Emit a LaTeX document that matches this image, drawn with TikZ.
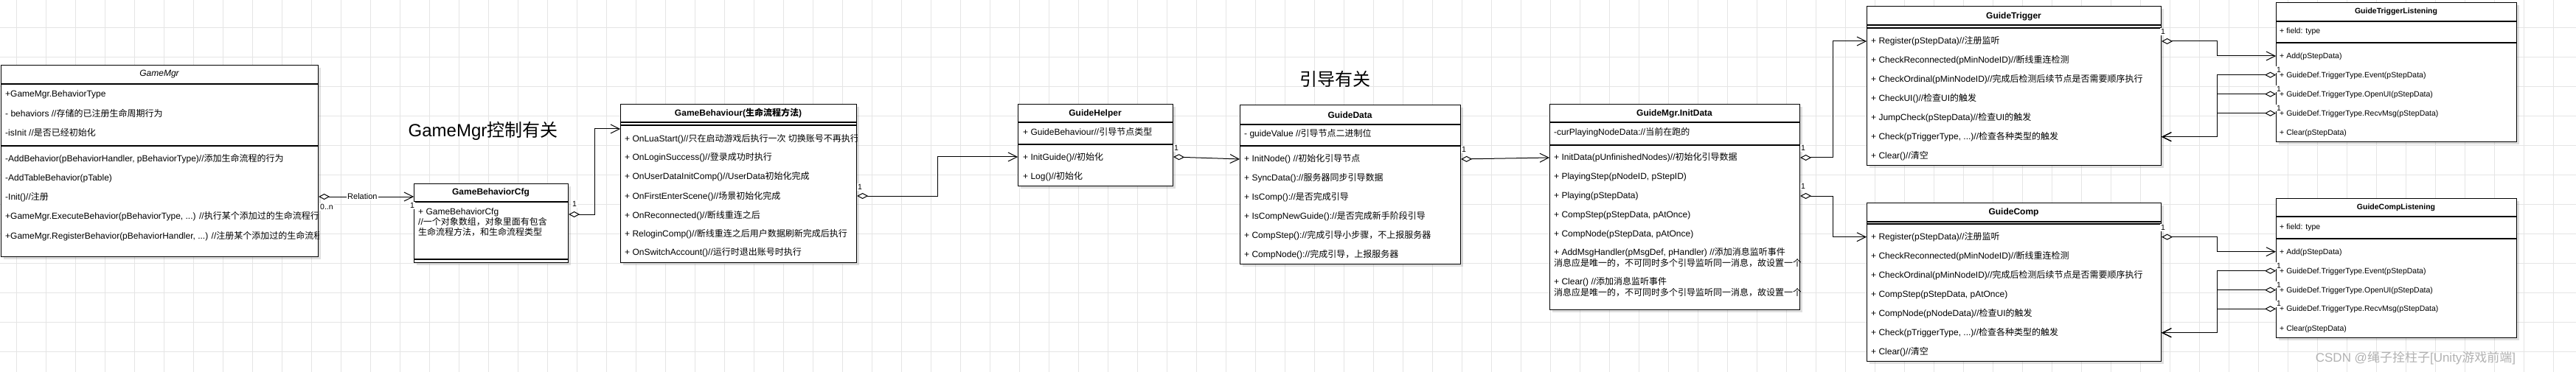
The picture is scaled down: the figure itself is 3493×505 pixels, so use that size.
\documentclass[tikz,border=0pt]{standalone}
\usepackage{fontspec}
\setmainfont{Liberation Sans}
\newfontfamily\hanfont{Noto Sans CJK SC}
\newfontfamily\latinfont{Liberation Sans}
% switch to the CJK font for Han characters and full-width punctuation
\XeTeXinterchartokenstate=1
\newXeTeXintercharclass\hanclass
\count255="3000
\loop\ifnum\count255<"A000
  \XeTeXcharclass\count255=\hanclass
  \advance\count255 by 1
\repeat
\count255="FF00
\loop\ifnum\count255<"FFF0
  \XeTeXcharclass\count255=\hanclass
  \advance\count255 by 1
\repeat
\XeTeXinterchartoks 0 \hanclass = {\hanfont}
\XeTeXinterchartoks 4095 \hanclass = {\hanfont}
\XeTeXinterchartoks \hanclass 0 = {\latinfont}
\XeTeXinterchartoks \hanclass 4095 = {\latinfont}
\usetikzlibrary{arrows.meta,shadows}
\tikzset{
  classbox/.style={draw, line width=1.1pt, fill=white, anchor=north west, inner sep=0pt,
    drop shadow={shadow xshift=3pt, shadow yshift=-3pt, opacity=0.25}},
  sep/.style={line width=1.1pt},
  cname/.style={font=\fontsize{12}{14}\selectfont\bfseries},
  member/.style={anchor=west, inner sep=0pt, text height=9.5pt, text depth=2.5pt,
    font=\fontsize{12}{14}\selectfont},
  smallmember/.style={member, font=\fontsize{10.5}{12}\selectfont},
  heading/.style={font=\fontsize{24}{28}\selectfont},
  mult/.style={inner sep=1pt, fill=white, font=\fontsize{10.5}{12}\selectfont},
  aggr/.style={line width=1pt,
    {Diamond[open,length=15pt,width=8pt]}-{Straight Barb[length=12pt,width=12pt]}},
  gridline/.style={black!10, line width=0.8pt}
}
\begin{document}
\begin{tikzpicture}[x=1pt,y=-1pt]
\useasboundingbox (0,0) rectangle (3493,505);
\fill[white] (0,0) rectangle (3493,505);
% background grid
\foreach \gx in {22,62,...,3493} \draw[gridline] (\gx,0) -- (\gx,505);
\foreach \gy in {37,77,...,505} \draw[gridline] (0,\gy) -- (3493,\gy);

% headings
\node[heading] (lbl-gamemgr) at (655,178) {GameMgr控制有关};
\node[heading] (lbl-guide) at (1810,107) {引导有关};

% GameMgr
\node[classbox, minimum width=430pt, minimum height=260pt] (gamemgr) at (1,88) {};
\node[cname, font=\fontsize{12}{14}\selectfont\itshape] (gamemgr-t) at (216,101) {GameMgr};
\draw[sep] (1,114) -- (431,114);
\draw[sep] (1,198) -- (431,198);
\begin{scope}
\clip (gamemgr.north west) rectangle (gamemgr.south east);
\node[member] (gamemgr-a1) at (7,128) {+GameMgr.BehaviorType};
\node[member] (gamemgr-a2) at (7,155) {- behaviors //存储的已注册生命周期行为};
\node[member] (gamemgr-a3) at (7,181) {-isInit //是否已经初始化};
\node[member] (gamemgr-o1) at (7,216) {-AddBehavior(pBehaviorHandler, pBehaviorType)//添加生命流程的行为};
\node[member] (gamemgr-o2) at (7,242) {-AddTableBehavior(pTable)};
\node[member] (gamemgr-o3) at (7,268) {-Init()//注册};
\node[member] (gamemgr-o4) at (7,294) {+GameMgr.ExecuteBehavior(pBehaviorType, ...) //执行某个添加过的生命流程行为};
\node[member] (gamemgr-o5) at (7,321) {+GameMgr.RegisterBehavior(pBehaviorHandler, ...) //注册某个添加过的生命流程行为};
\end{scope}

% GameBehaviorCfg
\node[classbox, minimum width=209pt, minimum height=107pt] (gbcfg) at (561,249) {};
\node[cname] (gbcfg-t) at (665.5,261) {GameBehaviorCfg};
\draw[sep] (561,274) -- (770,274);
\draw[sep] (561,352) -- (770,352);
\node[member] (gbcfg-a1) at (567,288) {+ GameBehaviorCfg};
\node[member] (gbcfg-a2) at (567,302) {//一个对象数组，对象里面有包含};
\node[member] (gbcfg-a3) at (567,316) {生命流程方法，和生命流程类型};

% GameBehaviour
\node[classbox, minimum width=320pt, minimum height=215pt] (gbeh) at (841,141) {};
\node[cname] (gbeh-t) at (1001,154) {GameBehaviour(生命流程方法)};
\draw[sep] (841,166) -- (1161,166);
\draw[sep] (841,170) -- (1161,170);
\begin{scope}
\clip (gbeh.north west) rectangle (gbeh.south east);
\node[member] (gbeh-o1) at (847,189) {+ OnLuaStart()//只在启动游戏后执行一次 切换账号不再执行};
\node[member] (gbeh-o2) at (847,214) {+ OnLoginSuccess()//登录成功时执行};
\node[member] (gbeh-o3) at (847,240) {+ OnUserDataInitComp()//UserData初始化完成};
\node[member] (gbeh-o4) at (847,267) {+ OnFirstEnterScene()//场景初始化完成};
\node[member] (gbeh-o5) at (847,293) {+ OnReconnected()//断线重连之后};
\node[member] (gbeh-o6) at (847,318) {+ ReloginComp()//断线重连之后用户数据刷新完成后执行};
\node[member] (gbeh-o7) at (847,343) {+ OnSwitchAccount()//运行时退出账号时执行};
\end{scope}

% GuideHelper
\node[classbox, minimum width=210pt, minimum height=111pt] (ghelper) at (1380,141) {};
\node[cname] (ghelper-t) at (1485,154) {GuideHelper};
\draw[sep] (1380,166) -- (1590,166);
\draw[sep] (1380,196) -- (1590,196);
\node[member] (ghelper-a1) at (1387,180) {+ GuideBehaviour//引导节点类型};
\node[member] (ghelper-o1) at (1387,214) {+ InitGuide()//初始化};
\node[member] (ghelper-o2) at (1387,240) {+ Log()//初始化};

% GuideData
\node[classbox, minimum width=299pt, minimum height=216pt] (gdata) at (1681,142) {};
\node[cname] (gdata-t) at (1830.5,156) {GuideData};
\draw[sep] (1681,169) -- (1980,169);
\draw[sep] (1681,198) -- (1980,198);
\node[member] (gdata-a1) at (1687,182) {- guideValue //引导节点二进制位};
\node[member] (gdata-o1) at (1687,216) {+ InitNode() //初始化引导节点};
\node[member] (gdata-o2) at (1687,242) {+ SyncData()://服务器同步引导数据};
\node[member] (gdata-o3) at (1687,268) {+ IsComp()://是否完成引导};
\node[member] (gdata-o4) at (1687,294) {+ IsCompNewGuide()://是否完成新手阶段引导};
\node[member] (gdata-o5) at (1687,319.5) {+ CompStep()://完成引导小步骤，不上报服务器};
\node[member] (gdata-o6) at (1687,345.5) {+ CompNode()://完成引导，上报服务器};

% GuideMgr.InitData
\node[classbox, minimum width=339pt, minimum height=279pt] (ginit) at (2101,141) {};
\node[cname] (ginit-t) at (2270.5,154) {GuideMgr.InitData};
\draw[sep] (2101,166) -- (2440,166);
\draw[sep] (2101,197) -- (2440,197);
\begin{scope}
\clip (ginit.north west) rectangle (ginit.south east);
\node[member] (ginit-a1) at (2107,180) {-curPlayingNodeData://当前在跑的};
\node[member] (ginit-o1) at (2107,214) {+ InitData(pUnfinishedNodes)//初始化引导数据};
\node[member] (ginit-o2) at (2107,240) {+ PlayingStep(pNodeID, pStepID)};
\node[member] (ginit-o3) at (2107,266) {+ Playing(pStepData)};
\node[member] (ginit-o4) at (2107,292) {+ CompStep(pStepData, pAtOnce)};
\node[member] (ginit-o5) at (2107,318) {+ CompNode(pStepData, pAtOnce)};
\node[member] (ginit-o6) at (2107,343) {+ AddMsgHandler(pMsgDef, pHandler) //添加消息监听事件};
\node[member] (ginit-o6b) at (2107,358) {消息应是唯一的，不可同时多个引导监听同一消息，故设置一个};
\node[member] (ginit-o7) at (2107,383) {+ Clear() //添加消息监听事件};
\node[member] (ginit-o7b) at (2107,398) {消息应是唯一的，不可同时多个引导监听同一消息，故设置一个};
\end{scope}

% GuideTrigger
\node[classbox, minimum width=399pt, minimum height=216pt] (gtrig) at (2531,8) {};
\node[cname] (gtrig-t) at (2730.5,22) {GuideTrigger};
\draw[sep] (2531,34) -- (2930,34);
\draw[sep] (2531,38) -- (2930,38);
\node[member] (gtrig-o1) at (2537,56) {+ Register(pStepData)//注册监听};
\node[member] (gtrig-o2) at (2537,81.7) {+ CheckReconnected(pMinNodeID)//断线重连检测};
\node[member] (gtrig-o3) at (2537,107.7) {+ CheckOrdinal(pMinNodeID)//完成后检测后续节点是否需要顺序执行};
\node[member] (gtrig-o4) at (2537,134) {+ CheckUI()//检查UI的触发};
\node[member] (gtrig-o5) at (2537,160) {+ JumpCheck(pStepData)//检查UI的触发};
\node[member] (gtrig-o6) at (2537,185.7) {+ Check(pTriggerType, ...)//检查各种类型的触发};
\node[member] (gtrig-o7) at (2537,211.7) {+ Clear()//清空};

% GuideComp
\node[classbox, minimum width=399pt, minimum height=215pt] (gcomp) at (2531,275) {};
\node[cname] (gcomp-t) at (2730.5,288) {GuideComp};
\draw[sep] (2531,301) -- (2930,301);
\draw[sep] (2531,304) -- (2930,304);
\node[member] (gcomp-o1) at (2537,321.7) {+ Register(pStepData)//注册监听};
\node[member] (gcomp-o2) at (2537,348.3) {+ CheckReconnected(pMinNodeID)//断线重连检测};
\node[member] (gcomp-o3) at (2537,374.3) {+ CheckOrdinal(pMinNodeID)//完成后检测后续节点是否需要顺序执行};
\node[member] (gcomp-o4) at (2537,400) {+ CompStep(pStepData, pAtOnce)};
\node[member] (gcomp-o5) at (2537,426) {+ CompNode(pNodeData)//检查UI的触发};
\node[member] (gcomp-o6) at (2537,451.7) {+ Check(pTriggerType, ...)//检查各种类型的触发};
\node[member] (gcomp-o7) at (2537,478.3) {+ Clear()//清空};

% GuideTriggerListening
\node[classbox, minimum width=326pt, minimum height=189pt] (gtl) at (3086,3) {};
\node[cname, font=\fontsize{10.5}{12}\selectfont\bfseries] (gtl-t) at (3249,16) {GuideTriggerListening};
\draw[sep] (3086,29) -- (3412,29);
\draw[sep] (3086,58) -- (3412,58);
\node[smallmember] (gtl-a1) at (3091,42) {+ field: type};
\node[smallmember] (gtl-o1) at (3091,76) {+ Add(pStepData)};
\node[smallmember] (gtl-o2) at (3091,101.7) {+ GuideDef.TriggerType.Event(pStepData)};
\node[smallmember] (gtl-o3) at (3091,127.7) {+ GuideDef.TriggerType.OpenUI(pStepData)};
\node[smallmember] (gtl-o4) at (3091,153.7) {+ GuideDef.TriggerType.RecvMsg(pStepData)};
\node[smallmember] (gtl-o5) at (3091,180) {+ Clear(pStepData)};

% GuideCompListening
\node[classbox, minimum width=326pt, minimum height=189pt] (gcl) at (3086,269) {};
\node[cname, font=\fontsize{10.5}{12}\selectfont\bfseries] (gcl-t) at (3249,282) {GuideCompListening};
\draw[sep] (3086,294) -- (3412,294);
\draw[sep] (3086,324) -- (3412,324);
\node[smallmember] (gcl-a1) at (3091,308) {+ field: type};
\node[smallmember] (gcl-o1) at (3091,341.7) {+ Add(pStepData)};
\node[smallmember] (gcl-o2) at (3091,367.7) {+ GuideDef.TriggerType.Event(pStepData)};
\node[smallmember] (gcl-o3) at (3091,393.7) {+ GuideDef.TriggerType.OpenUI(pStepData)};
\node[smallmember] (gcl-o4) at (3091,419.3) {+ GuideDef.TriggerType.RecvMsg(pStepData)};
\node[smallmember] (gcl-o5) at (3091,445.7) {+ Clear(pStepData)};

% relations
\draw[aggr] (gamemgr.east |- 0,267) -- node[mult, pos=0.46, font=\fontsize{11}{12}\selectfont] (rel) {Relation} (gbcfg.west |- 0,267);
\node[mult, anchor=west] (m-gm) at (433,281) {0..n};
\node[mult] (m-cfg1) at (559,279) {1};
\draw[aggr] (gbcfg.east |- 0,291) -- (806,291) |- (gbeh.west |- 0,175);
\node[mult] (m-cfg2) at (779,277) {1};
\draw[aggr] (gbeh.east |- 0,266) -- (1271,266) |- (ghelper.west |- 0,213);
\node[mult] (m-beh) at (1166,254) {1};
\draw[aggr] (ghelper.east |- 0,213) -- (gdata.west |- 0,216);
\node[mult] (m-help) at (1595,201) {1};
\draw[aggr] (gdata.east |- 0,216) -- (ginit.west |- 0,214);
\node[mult] (m-data) at (1985,203) {1};
\draw[aggr] (ginit.east |- 0,214) -- (2485,214) |- (gtrig.west |- 0,56);
\node[mult] (m-init1) at (2445,201) {1};
\draw[aggr] (ginit.east |- 0,266) -- (2485,266) |- (gcomp.west |- 0,321.7);
\node[mult] (m-init2) at (2445,253) {1};

% trigger <-> listening
\draw[aggr] (gtrig.east |- 0,56) -- (3006,56) |- (gtl.west |- 0,76);
\node[mult] (m-trig) at (2933,43) {1};
\foreach \ry [count=\i] in {101.7,127.7,153.7} {
  \draw[aggr] (gtl.west |- 0,\ry) -- (3006,\ry) |- (gtrig.east |- 0,185.7);
  \node[mult] (m-gtl\i) at (3090,\ry-7) {1};
}
\draw[aggr] (gcomp.east |- 0,321.7) -- (3006,321.7) |- (gcl.west |- 0,341.7);
\node[mult] (m-comp) at (2933,309) {1};
\foreach \ry [count=\i] in {367.7,393.7,419.3} {
  \draw[aggr] (gcl.west |- 0,\ry) -- (3006,\ry) |- (gcomp.east |- 0,451.7);
  \node[mult] (m-gcl\i) at (3090,\ry-7) {1};
}

% watermark
\node[font=\fontsize{17}{20}\selectfont, text=black!30] (wmark) at (3275.5,486) {CSDN @绳子拴柱子[Unity游戏前端]};
\end{tikzpicture}
\end{document}
